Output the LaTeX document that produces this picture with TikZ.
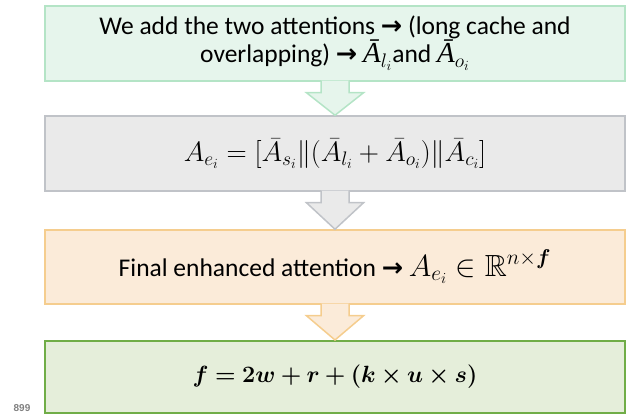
\RequirePackage{fix-cm}
\documentclass[tikz,border=0pt]{standalone}
\usepackage{amsmath,amssymb,bm}
\usepackage[no-math]{fontspec}
\setmainfont{Carlito}
\newfontfamily\arrfont{DejaVu Sans}
\newfontfamily\numfont{Liberation Sans}
\newfontfamily\serifit{Liberation Serif}
\newcommand{\rarr}{{\arrfont\bfseries →}}
\newcommand{\bigmath}[1]{\scalebox{1.2}{$#1$}}
\newcommand{\barA}[1]{{\fontsize{29}{30}\selectfont\serifit\itshape Ā}\scalebox{1.1}{$_{#1}$}}
\usetikzlibrary{calc}
\definecolor{gfill}{HTML}{E6F5EC}
\definecolor{gline}{HTML}{B4E4C6}
\definecolor{yfill}{HTML}{EAEAEA}
\definecolor{yline}{HTML}{C0C3C8}
\definecolor{ofill}{HTML}{FBEBD9}
\definecolor{oline}{HTML}{F5CD8E}
\definecolor{lfill}{HTML}{E5EEDA}
\definecolor{lline}{HTML}{70AD47}
\tikzset{
  box/.style={draw, line width=1.5pt, minimum width=580pt, minimum height=75pt,
    inner sep=0pt, align=center, font=\fontsize{25.5}{28}\selectfont},
  txt/.style={inner sep=0pt, anchor=base, font=\fontsize{25.5}{28}\selectfont},
  dnarrow/.style={line width=1.5pt, line join=miter},
}
\newcommand{\downarr}[4]{% from node #1 to node #2, fill #3, line #4
  \path (#1.south) coordinate (#1s) (#2.north) coordinate (#1t);
  \draw[dnarrow, fill=#3, draw=#4]
    ($(#1s)+(-14,1)$) -- ($(#1s)+(-14,-11)$) -- ($(#1s)+(-28.5,-11)$) --
    (#1t) -- ($(#1s)+(28.5,-11)$) -- ($(#1s)+(14,-11)$) -- ($(#1s)+(14,1)$);
}
\begin{document}
\begin{tikzpicture}[x=1pt,y=1pt]
\useasboundingbox (0,0) rectangle (630,417);
\node[box, fill=gfill, draw=gline] (b1) at (335,373.5) {};
\node[txt] (t1a) at ($(b1.center)+(0,8.5)$)
  {We add the two attentions \rarr{} (long cache and};
\node[txt] (t1b) at ($(b1.center)+(0,-19.5)$)
  {overlapping) \rarr{} \barA{l_i}and \barA{o_i}};
\node[box, fill=yfill, draw=yline, font=\fontsize{28}{30}\selectfont] (b2) at (335,263.5)
  {$A_{e_i} = [\bar{A}_{s_i}\|(\bar{A}_{l_i} + \bar{A}_{o_i})\|\bar{A}_{c_i}]$};
\node[box, fill=ofill, draw=oline, minimum height=74pt] (b3) at (335,150)
  {Final enhanced attention \rarr{} \bigmath{A_{e_i} \in \mathbb{R}^{n\times \bm{f}}}};
\node[box, fill=lfill, draw=lline, line width=2pt, minimum height=72pt,
  font=\fontsize{23.5}{26}\selectfont] (b4) at (335,40)
  {$\bm{f = 2w + r + (k \times u \times s)}$};
\downarr{b1}{b2}{gfill}{gline}
\downarr{b2}{b3}{yfill}{yline}
\downarr{b3}{b4}{ofill}{oline}
\node[font=\numfont\bfseries\fontsize{10}{11}\selectfont, text=gray, anchor=base] (pg) at (22,5) {899};
\end{tikzpicture}
\end{document}
